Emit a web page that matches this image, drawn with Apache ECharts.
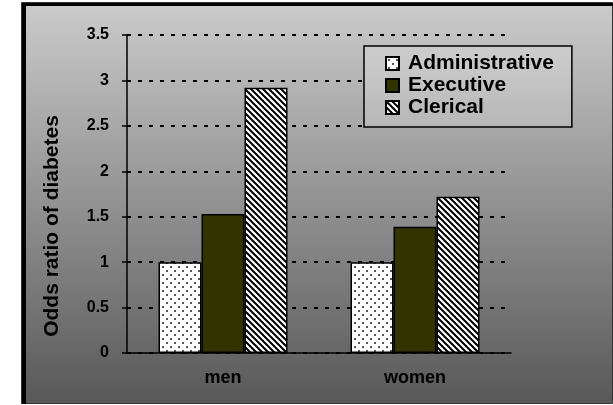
<!DOCTYPE html>
<html>
<head>
<meta charset="utf-8">
<script src="https://cdn.jsdelivr.net/npm/echarts@6/dist/echarts.min.js"></script>
<style>
html, body { margin: 0; padding: 0; background: #fff; }
#chart { width: 613px; height: 405px; }
</style>
</head>
<body>
<div id="chart"></div>
<script>
var categories = ['men', 'women'];
var administrative = [1, 1];
var executive = [1.53, 1.39];
var clerical = [2.92, 1.72];

// fills for the three groups
function dots() {
    var c = document.createElement('canvas');
    c.width = 8; c.height = 8;
    var ctx = c.getContext('2d');
    ctx.fillStyle = '#fff';
    ctx.fillRect(0, 0, 8, 8);
    ctx.fillStyle = '#555';
    ctx.fillRect(2, 2, 2, 2);
    ctx.fillRect(6, 6, 2, 2);
    return { image: c, repeat: 'repeat' };
}
function stripes() {
    var c = document.createElement('canvas');
    c.width = 6; c.height = 6;
    var ctx = c.getContext('2d');
    ctx.fillStyle = '#fff';
    ctx.fillRect(0, 0, 6, 6);
    ctx.strokeStyle = '#000';
    ctx.lineWidth = 2;
    for (var k = -1; k <= 1; k++) {
        ctx.beginPath();
        ctx.moveTo(-1, -1 + 6 * k);
        ctx.lineTo(7, 7 + 6 * k);
        ctx.stroke();
    }
    return { image: c, repeat: 'repeat' };
}

var bg = new echarts.graphic.LinearGradient(0, 3, 0, 404, [
    { offset: 0, color: '#cbcbcb' },
    { offset: 1, color: '#585858' }
], true);

var font = 'Liberation Sans';

var option = {
    backgroundColor: '#fff',
    animation: false,
    graphic: [
        { type: 'rect', z: -10, shape: { x: 21.5, y: 2.5, width: 591, height: 401 },
          style: { fill: bg, stroke: '#333', lineWidth: 1 } },
        { type: 'rect', z: -9, shape: { x: 22, y: 3, width: 4, height: 401 }, style: { fill: '#000' } },
        { type: 'rect', z: -9, shape: { x: 22, y: 3, width: 591, height: 3 }, style: { fill: '#000' } }
    ],
    grid: { left: 127, right: 102, top: 35, bottom: 52 },
    legend: {
        orient: 'vertical',
        left: 364, top: 46,
        padding: [7, 18, 9, 21],
        itemGap: 1,
        itemWidth: 13, itemHeight: 13,
        icon: 'rect',
        backgroundColor: bg,
        borderColor: '#000',
        borderWidth: 1.5,
        textStyle: { fontFamily: font, fontWeight: 'bold', fontSize: 21, color: '#000', padding: [0, 0, 0, 4] },
        data: ['Administrative', 'Executive', 'Clerical']
    },
    xAxis: {
        type: 'category',
        data: categories,
        axisLine: { lineStyle: { color: '#000', width: 1.5 } },
        axisTick: { length: 5, lineStyle: { color: '#000', width: 1.5 } },
        axisLabel: { margin: 16, fontFamily: font, fontWeight: 'bold', fontSize: 18, color: '#000' }
    },
    yAxis: {
        type: 'value',
        min: 0, max: 3.5, interval: 0.5,
        name: 'Odds ratio of diabetes',
        nameLocation: 'middle',
        nameGap: 64,
        nameRotate: 90,
        nameTextStyle: { fontFamily: font, fontWeight: 'bold', fontSize: 21, color: '#000', padding: [0, 64, 0, 0] },
        axisLine: { show: true, lineStyle: { color: '#000', width: 1.5 } },
        axisTick: { show: true, length: 5, lineStyle: { color: '#000', width: 1.5 } },
        axisLabel: { margin: 18, fontFamily: font, fontWeight: 'bold', fontSize: 16, color: '#000' },
        splitLine: { lineStyle: { color: '#000', width: 2, type: [4, 7] } }
    },
    series: [
        { name: 'Administrative', type: 'bar', data: administrative, barWidth: 43, barGap: '0%',
          itemStyle: { color: dots(), borderColor: '#000', borderWidth: 1.5 } },
        { name: 'Executive', type: 'bar', data: executive, barWidth: 43, barGap: '0%',
          itemStyle: { color: '#333300', borderColor: '#000', borderWidth: 1.5 } },
        { name: 'Clerical', type: 'bar', data: clerical, barWidth: 43, barGap: '0%',
          itemStyle: { color: stripes(), borderColor: '#000', borderWidth: 1.5 } }
    ]
};

var myChart = echarts.init(document.getElementById('chart'));
myChart.setOption(option);
</script>
</body>
</html>
